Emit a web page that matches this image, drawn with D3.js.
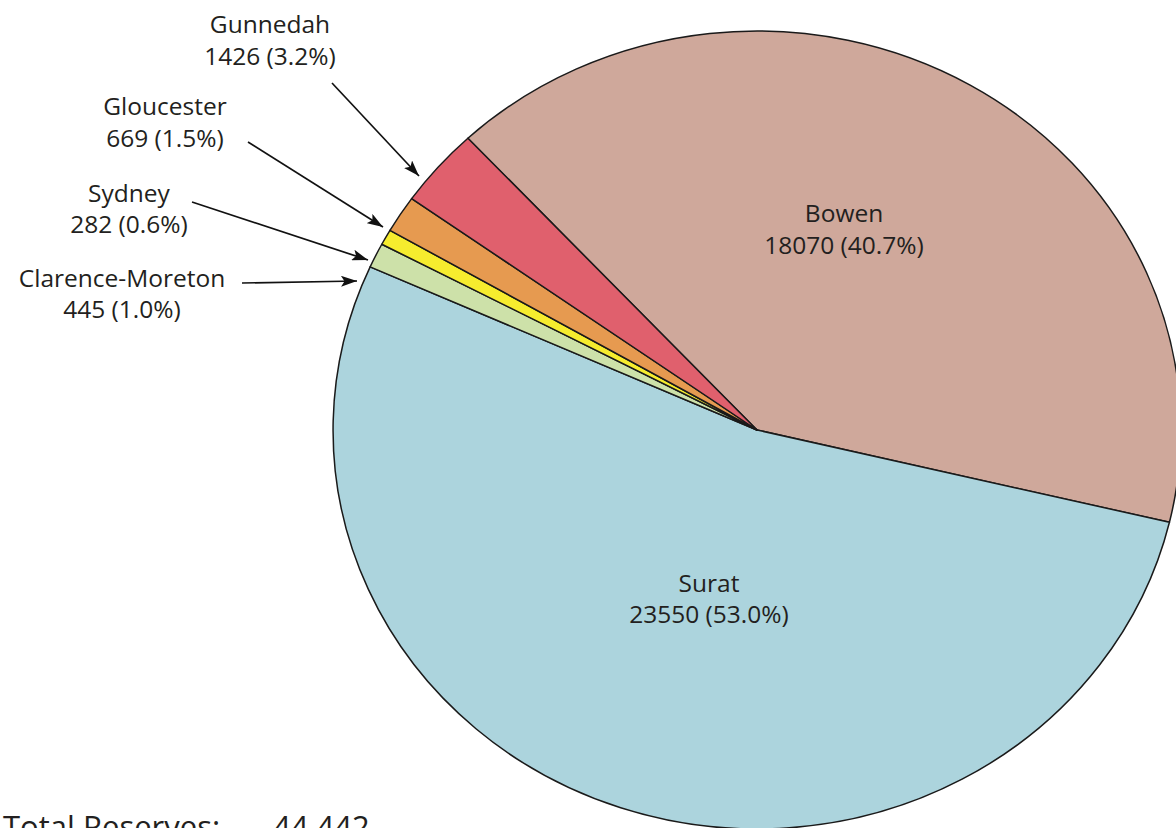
<!DOCTYPE html>
<html>
<head>
<meta charset="utf-8">
<script src="https://cdn.jsdelivr.net/npm/d3@7/dist/d3.min.js"></script>
<style>
  html, body { margin: 0; padding: 0; background: #fff; }
  svg { display: block; }
  text { font-family: "Open Sans", sans-serif; fill: #231f20; }
</style>
</head>
<body>
<svg id="chart" width="1176" height="828"></svg>
<script>
// ---- data ----
const basins = ["Bowen", "Surat", "Clarence-Moreton", "Sydney", "Gloucester", "Gunnedah"];
const reserves = [18070, 23550, 445, 282, 669, 1426];
const percents = ["40.7%", "53.0%", "1.0%", "0.6%", "1.5%", "3.2%"];
const colors = ["#cfa89b", "#acd4dd", "#cde1a9", "#f6ec2e", "#e69a50", "#e0606d"];
const totalLabel = "Total Reserves:";
const totalValue = "44,442";

// ---- layout ----
const W = 1176, H = 828;
const cx = 757, cy = 430, R = 399, sx = 1.0625;
const startDeg = -43;

const svg = d3.select("#chart");

const pie = d3.pie().sort(null).value(d => d.v)
  .startAngle(startDeg * Math.PI / 180)
  .endAngle(startDeg * Math.PI / 180 + 2 * Math.PI);
const arc = d3.arc().innerRadius(0).outerRadius(R);

const data = basins.map((b, i) => ({ name: b, v: reserves[i], pct: percents[i], color: colors[i] }));
const arcs = pie(data);

const g = svg.append("g").attr("transform", `translate(${cx},${cy}) scale(${sx},1)`);
g.selectAll("path.slice").data(arcs).join("path")
  .attr("class", "slice")
  .attr("d", arc)
  .attr("fill", d => d.data.color)
  .attr("stroke", "#1a1a1a")
  .attr("stroke-width", 1.5)
  .attr("stroke-linejoin", "round")
  .attr("vector-effect", "non-scaling-stroke");

// arrow marker
const defs = svg.append("defs");
defs.append("marker")
  .attr("id", "ah")
  .attr("viewBox", "0 0 16 11")
  .attr("refX", 16).attr("refY", 5.5)
  .attr("markerWidth", 16).attr("markerHeight", 11)
  .attr("markerUnits", "userSpaceOnUse")
  .attr("orient", "auto")
  .append("path").attr("d", "M0,0 L16,5.5 L0,11 L3.5,5.5 Z").attr("fill", "#111");

// label placements (annotation layout)
const labelLayout = {
  "Bowen":            { x: 844, y1: 222, y2: 254 },
  "Surat":            { x: 709, y1: 592, y2: 623 },
  "Gunnedah":         { x: 270, y1: 33,  y2: 65,  arrow: [332, 83, 419, 176] },
  "Gloucester":       { x: 165, y1: 115, y2: 147, arrow: [248, 142, 383, 227] },
  "Sydney":           { x: 129, y1: 202, y2: 233, arrow: [192, 202, 368, 260] },
  "Clarence-Moreton": { x: 122, y1: 287, y2: 318, arrow: [242, 283, 357, 281] }
};

const labels = svg.append("g");
data.forEach(d => {
  const L = labelLayout[d.name];
  labels.append("text").attr("x", L.x).attr("y", L.y1)
    .attr("text-anchor", "middle").attr("font-size", 24.5).text(d.name);
  labels.append("text").attr("x", L.x).attr("y", L.y2)
    .attr("text-anchor", "middle").attr("font-size", 24.5)
    .text(`${d.v} (${d.pct})`);
  if (L.arrow) {
    const [x1, y1, x2, y2] = L.arrow;
    labels.append("line")
      .attr("x1", x1).attr("y1", y1).attr("x2", x2).attr("y2", y2)
      .attr("stroke", "#111").attr("stroke-width", 1.7)
      .attr("marker-end", "url(#ah)");
  }
});

// total (partly below the bottom edge, as in the reference)
svg.append("text").attr("x", 3).attr("y", 838).attr("font-size", 31).text(totalLabel);
svg.append("text").attr("x", 273).attr("y", 838).attr("font-size", 31).text(totalValue);
</script>
</body>
</html>
